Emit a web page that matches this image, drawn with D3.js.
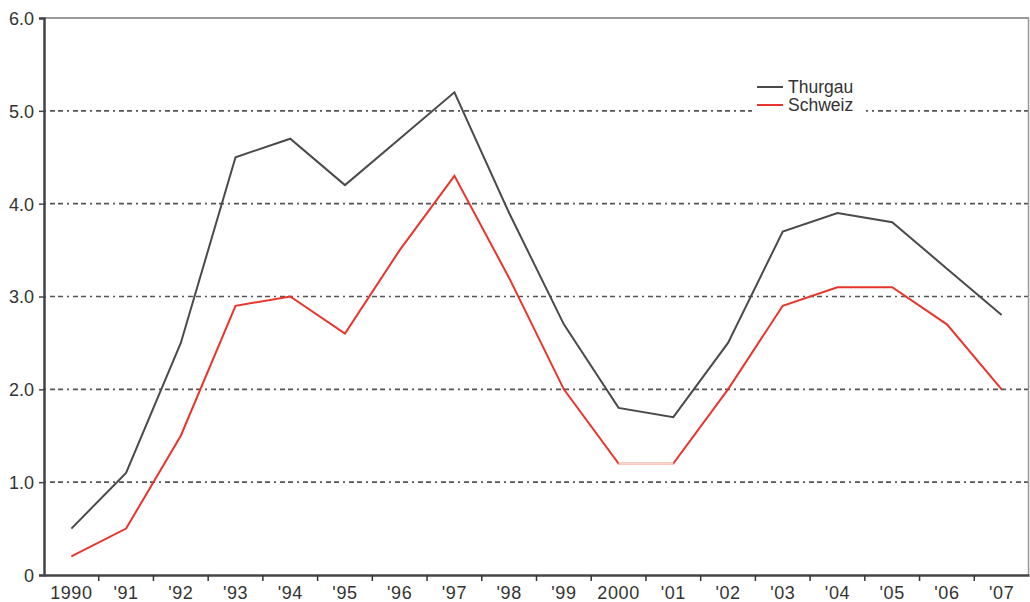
<!DOCTYPE html>
<html>
<head>
<meta charset="utf-8">
<script src="https://cdn.jsdelivr.net/npm/d3@7"></script>
<style>
  body { margin: 0; background: #fff; }
  svg { display: block; font-family: "Liberation Sans", Arial, sans-serif; }
</style>
</head>
<body>
<div id="chart"></div>
<script>
"use strict";

// === DATA ===
const years = ["1990", "'91", "'92", "'93", "'94", "'95", "'96", "'97", "'98", "'99",
  "2000", "'01", "'02", "'03", "'04", "'05", "'06", "'07"];
const thurgau = [0.5, 1.1, 2.5, 4.5, 4.7, 4.2, 4.7, 5.2, 3.9, 2.7, 1.8, 1.7, 2.5, 3.7, 3.9, 3.8, 3.3, 2.8];
const schweiz = [0.2, 0.5, 1.5, 2.9, 3.0, 2.6, 3.5, 4.3, 3.2, 2.0, 1.2, 1.2, 2.0, 2.9, 3.1, 3.1, 2.7, 2.0];
const yTicks = [0, 1, 2, 3, 4, 5, 6];
const seriesNames = ["Thurgau", "Schweiz"];

// === SVG SETUP ===
const svgWidth = 1030, svgHeight = 602;
const margin = { top: 18, right: 1, bottom: 27, left: 44 };

const svg = d3.select("#chart")
  .append("svg")
  .attr("width", svgWidth)
  .attr("height", svgHeight);

// === SCALES ===
const xBand = d3.scaleBand()
  .domain(years)
  .range([margin.left, svgWidth - margin.right]);

const x = d => xBand(d) + xBand.bandwidth() / 2;

const yScale = d3.scaleLinear()
  .domain([0, 6])
  .range([svgHeight - margin.bottom, margin.top]);

// === GRID ===
svg.append("g")
  .selectAll("line")
  .data(yTicks.filter(d => d > 0 && d < 6))
  .enter()
  .append("line")
  .attr("x1", margin.left)
  .attr("x2", svgWidth - margin.right)
  .attr("y1", d => yScale(d))
  .attr("y2", d => yScale(d))
  .attr("stroke", "#555")
  .attr("stroke-width", 1.6)
  .attr("stroke-dasharray", "2,4,5,3,5,4");

// top and right frame
svg.append("line")
  .attr("x1", margin.left).attr("x2", svgWidth - margin.right)
  .attr("y1", yScale(6)).attr("y2", yScale(6))
  .attr("stroke", "#999").attr("stroke-width", 2);

svg.append("line")
  .attr("x1", svgWidth - margin.right - 0.5).attr("x2", svgWidth - margin.right - 0.5)
  .attr("y1", yScale(6)).attr("y2", yScale(0))
  .attr("stroke", "#999").attr("stroke-width", 1.5);

// === AXES ===
const yAxis = d3.axisLeft(yScale)
  .tickValues(yTicks)
  .tickSize(5)
  .tickPadding(5)
  .tickFormat(d => d === 0 ? "0" : d3.format(".1f")(d));

const yG = svg.append("g")
  .attr("transform", `translate(${margin.left}, 0)`)
  .call(yAxis);

const xAxis = d3.axisBottom(xBand)
  .tickSize(0)
  .tickPadding(11);

const xG = svg.append("g")
  .attr("transform", `translate(0, ${svgHeight - margin.bottom})`)
  .call(xAxis);

// tick marks between categories
xG.selectAll(".sep")
  .data(years.slice(1))
  .enter()
  .append("line")
  .attr("class", "sep")
  .attr("x1", d => xBand(d))
  .attr("x2", d => xBand(d))
  .attr("y1", 0)
  .attr("y2", 6)
  .attr("stroke", "#333")
  .attr("stroke-width", 1.5);

[yG, xG].forEach(g => {
  g.select(".domain").attr("stroke", "#444").attr("stroke-width", 2.5);
  g.selectAll(".tick line").attr("stroke", "#444").attr("stroke-width", 1.5);
  g.selectAll("text").attr("fill", "#333").attr("font-size", "18px")
    .attr("font-family", "'Liberation Sans', Arial, sans-serif");
});
yG.selectAll("text").attr("dy", "0.36em");
xG.selectAll("text").attr("letter-spacing", "0.6px");

// === LINES ===
const line = d3.line()
  .x((d, i) => x(years[i]))
  .y(d => yScale(d));

svg.append("path")
  .datum(thurgau)
  .attr("fill", "none")
  .attr("stroke", "#4a4a4a")
  .attr("stroke-width", 2)
  .attr("d", line);

svg.append("path")
  .datum(schweiz)
  .attr("fill", "none")
  .attr("stroke", "#e8352c")
  .attr("stroke-width", 2)
  .attr("d", line);

// pale segment 2000 – '01 on Schweiz line
const i2000 = years.indexOf("2000");
svg.append("line")
  .attr("x1", x(years[i2000])).attr("x2", x(years[i2000 + 1]))
  .attr("y1", yScale(schweiz[i2000])).attr("y2", yScale(schweiz[i2000 + 1]))
  .attr("stroke", "#fbd9cf")
  .attr("stroke-width", 2.5);

// === LEGEND ===
const legend = svg.append("g").attr("transform", "translate(752, 76)");

legend.append("rect")
  .attr("x", 0).attr("y", 0)
  .attr("width", 114).attr("height", 40)
  .attr("fill", "#fff");

const legendColors = ["#4a4a4a", "#e8352c"];
seriesNames.forEach((name, i) => {
  legend.append("line")
    .attr("x1", 5).attr("x2", 31)
    .attr("y1", 11 + i * 18).attr("y2", 11 + i * 18)
    .attr("stroke", legendColors[i])
    .attr("stroke-width", 2);
  legend.append("text")
    .attr("x", 36)
    .attr("y", 17 + i * 18)
    .attr("font-size", "17.5px")
    .attr("fill", "#333")
    .text(name);
});
</script>
</body>
</html>
